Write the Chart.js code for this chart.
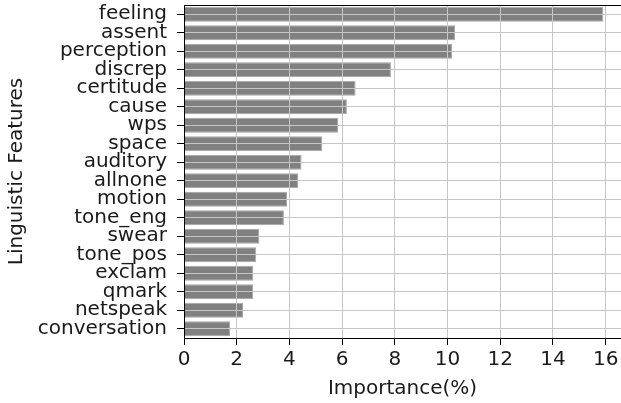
<!DOCTYPE html>
<html>
<head>
<meta charset="utf-8">
<script src="https://cdn.jsdelivr.net/npm/chart.js@4"></script>
<style>
  body { margin: 0; background: #fff; }
</style>
</head>
<body>
<canvas id="barChart" width="621" height="403"></canvas>
<script>
var features = ["feeling", "assent", "perception", "discrep", "certitude", "cause", "wps", "space",
    "auditory", "allnone", "motion", "tone_eng", "swear", "tone_pos", "exclam", "qmark", "netspeak", "conversation"];
var importance = [15.91, 10.29, 10.18, 7.85, 6.51, 6.18, 5.85, 5.25,
    4.46, 4.34, 3.91, 3.79, 2.86, 2.74, 2.63, 2.63, 2.24, 1.75];
var xTicks = [0, 2, 4, 6, 8, 10, 12, 14, 16];

var font = { family: "'DejaVu Sans'", size: 20 };

// top spine, matplotlib style
var topSpine = {
    id: 'topSpine',
    afterDraw: function (chart) {
        var a = chart.chartArea, ctx = chart.ctx;
        ctx.save();
        ctx.strokeStyle = '#000';
        ctx.lineWidth = 1;
        ctx.beginPath();
        ctx.moveTo(a.left, a.top + 0.5);
        ctx.lineTo(a.right, a.top + 0.5);
        ctx.stroke();
        ctx.restore();
    }
};

new Chart(document.getElementById("barChart").getContext("2d"), {
    type: 'bar',
    data: {
        labels: features,
        datasets: [{
            label: 'Importance(%)',
            data: importance,
            backgroundColor: '#808080',
            borderColor: '#a6a6a6',
            borderWidth: 1,
            barPercentage: 0.8,
            categoryPercentage: 1.0
        }]
    },
    options: {
        indexAxis: 'y',
        responsive: false,
        animation: false,
        devicePixelRatio: 1,
        layout: { padding: { top: 5, left: 0, right: 0, bottom: 0 } },
        plugins: { legend: { display: false }, tooltip: { enabled: false } },
        scales: {
            x: {
                min: 0,
                max: 16.58,
                afterBuildTicks: function (scale) {
                    scale.ticks = xTicks.map(function (v) { return { value: v }; });
                },
                afterFit: function (scale) {
                    scale.height = 65;
                    scale.paddingLeft = 0;
                    scale.paddingRight = 0;
                },
                grid: { color: '#c6c6c6', lineWidth: 1, tickColor: '#000', tickLength: 7, z: 1 },
                border: { color: '#000', width: 1, z: 1 },
                ticks: { color: '#1a1a1a', font: font, padding: 3, maxRotation: 0 },
                title: { display: true, text: 'Importance(%)', color: '#1a1a1a', font: font, padding: { top: 0, bottom: 2 } }
            },
            y: {
                offset: true,
                afterFit: function (scale) {
                    scale.width = 184;
                    scale.paddingTop = 0;
                    scale.paddingBottom = 0;
                },
                grid: { offset: false, color: '#c6c6c6', lineWidth: 1, tickColor: '#000', tickLength: 7, z: 1 },
                border: { color: '#000', width: 1, z: 1 },
                ticks: { color: '#1a1a1a', font: font, padding: 10, autoSkip: false },
                title: { display: true, text: 'Linguistic Features', color: '#1a1a1a', font: font, padding: { top: 5, bottom: 0 } }
            }
        }
    },
    plugins: [topSpine]
});
</script>
</body>
</html>
